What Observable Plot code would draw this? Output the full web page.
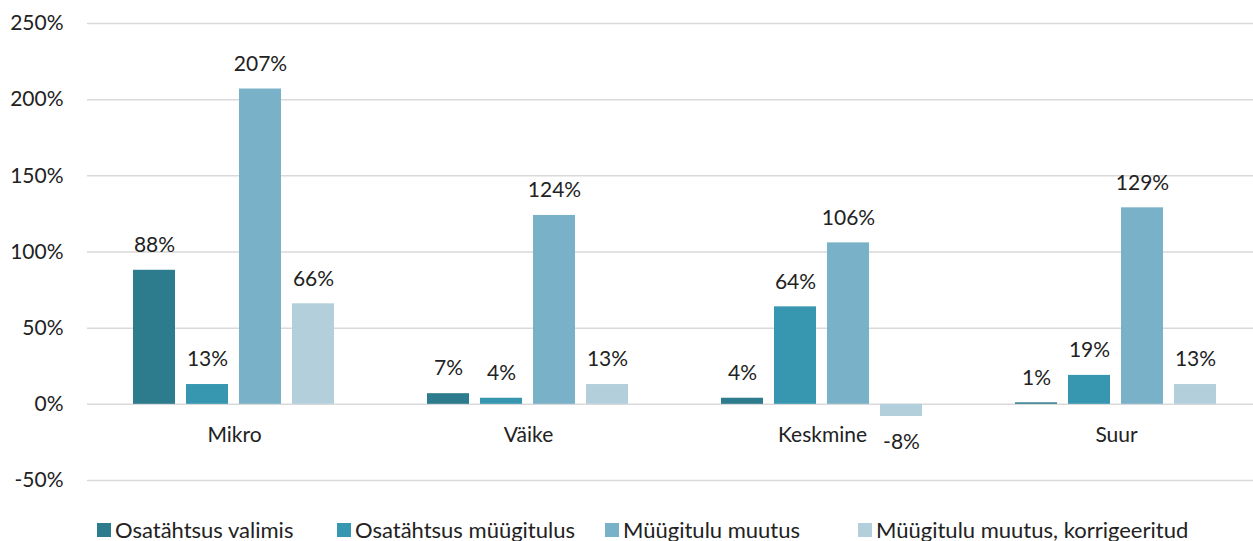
<!DOCTYPE html>
<html><head><meta charset="utf-8">
<script src="https://cdn.jsdelivr.net/npm/d3@7"></script>
<script src="https://cdn.jsdelivr.net/npm/@observablehq/plot@0.6"></script>
<style>
body{margin:0;background:#fff;font-family:Lato,"Open Sans",sans-serif;}
#legend{position:absolute;top:516px;left:0;width:1253px;font-size:22px;color:#222;}
.item{position:absolute;display:flex;align-items:center;white-space:nowrap;}
.sw{width:14px;height:14px;margin-right:4px;}
</style></head><body>
<div id="chart"></div>
<div id="legend"></div>
<script>
const categories = ["Mikro", "Väike", "Keskmine", "Suur"];
const seriesNames = ["Osatähtsus valimis", "Osatähtsus müügitulus", "Müügitulu muutus", "Müügitulu muutus, korrigeeritud"];
const osatahtsusValimis = [88, 7, 4, 1];
const osatahtsusMyygitulus = [13, 4, 64, 19];
const myygituluMuutus = [207, 124, 106, 129];
const myygituluMuutusKorr = [66, 13, -8, 13];
const colors = ["#2d7c8e", "#3897b0", "#79b2c8", "#b4cfdc"];
const yTicks = [-50, 0, 50, 100, 150, 200, 250];
const legendX = [97, 337, 605, 858];

const allSeries = [osatahtsusValimis, osatahtsusMyygitulus, myygituluMuutus, myygituluMuutusKorr];
const data = [];
categories.forEach((c, i) => allSeries.forEach((s, j) => data.push({cat: c, series: seriesNames[j], value: s[i]})));

const chart = Plot.plot({
  width: 1253, height: 510,
  marginLeft: 86, marginRight: -10, marginTop: 23, marginBottom: 30,
  style: {fontFamily: "Lato, 'Open Sans', sans-serif", fontSize: "21px", color: "#222", overflow: "hidden"},
  fx: {domain: categories, padding: 0, axis: null},
  x: {domain: seriesNames, paddingInner: 0.2, paddingOuter: 0.85, axis: null},
  y: {domain: [-50, 250], ticks: yTicks, tickFormat: d => d + "%", tickSize: 0, tickPadding: 24, label: null},
  color: {domain: seriesNames, range: colors},
  marks: [
    Plot.gridY(yTicks, {stroke: "#d9d9d9", strokeOpacity: 1, strokeWidth: 1.5}),
    Plot.axisY({ticks: yTicks, tickFormat: d => d + "%", tickSize: 0, tickPadding: 24, fontSize: 21, label: null}),
    Plot.barY(data, {fx: "cat", x: "series", y: "value", fill: "series"}),
    Plot.text(data.filter(d => d.value >= 0), {fx: "cat", x: "series", y: "value", text: d => d.value + "%", dy: -25, fontSize: 21, fill: "#222"}),
    Plot.text(data.filter(d => d.value < 0), {fx: "cat", x: "series", y: "value", text: d => d.value + "%", dy: 26, fontSize: 21, fill: "#222"}),
    Plot.text(categories, {fx: d => d, y: 0, text: d => d, dy: 31, fontSize: 21, fill: "#222"})
  ]
});
document.getElementById("chart").appendChild(chart);

const legend = document.getElementById("legend");
seriesNames.forEach((n, i) => {
  const it = document.createElement("div");
  it.className = "item";
  it.style.left = legendX[i] + "px";
  it.innerHTML = `<span class="sw" style="background:${colors[i]}"></span><span>${n}</span>`;
  legend.appendChild(it);
});
</script>
</body></html>
